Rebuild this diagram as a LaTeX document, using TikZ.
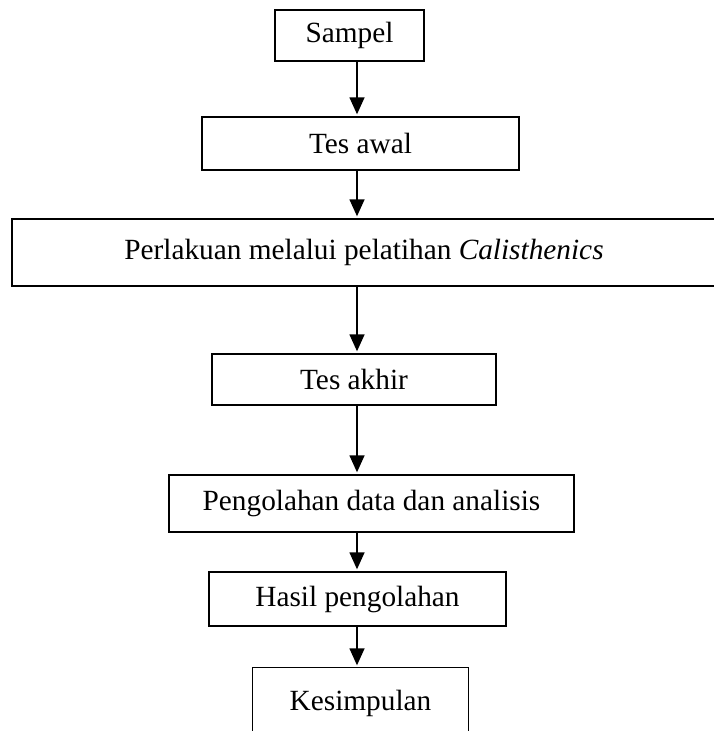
\documentclass[tikz,border=0pt]{standalone}
\usepackage{fontspec}
\setmainfont{Liberation Serif}
\usetikzlibrary{arrows.meta}
\begin{document}
\begin{tikzpicture}[x=1pt,y=1pt,
  boxnode/.style={draw=black, line width=1.4pt, inner sep=0pt, anchor=center,
    font=\fontsize{29.3}{35}\selectfont},
  arr/.style={line width=1.5pt, -{Triangle[width=15pt,length=17pt]}, shorten >=2pt}]
\useasboundingbox (0,0) rectangle (713,-731);
\coordinate (ax) at (357,0);
\node[boxnode, minimum width=149pt, minimum height=51pt] (s) at (349.5,-35.5) {Sampel};
\node[boxnode, minimum width=317pt, minimum height=53pt] (ta) at (360.5,-143.5) {Tes awal};
\node[boxnode, minimum width=704pt, minimum height=67pt] (p) at (364,-252.5) {Perlakuan melalui pelatihan \textit{Calisthenics}};
\node[boxnode, minimum width=284pt, minimum height=51pt] (tk) at (354,-379.5) {Tes akhir};
\node[boxnode, minimum width=405pt, minimum height=57pt] (pd) at (371.5,-503.5) {Pengolahan data dan analisis};
\node[boxnode, minimum width=297pt, minimum height=54pt] (h) at (357.5,-599) {Hasil pengolahan};
\node[boxnode, draw=none, minimum width=215pt, minimum height=70pt] (k) at (360.5,-703) {Kesimpulan};
\draw[line width=1.4pt] (k.south west) -- (k.north west) -- (k.north east) -- (k.south east);
\draw[arr] (s.south -| ax) -- (ta.north -| ax);
\draw[arr] (ta.south -| ax) -- (p.north -| ax);
\draw[arr] (p.south -| ax) -- (tk.north -| ax);
\draw[arr] (tk.south -| ax) -- (pd.north -| ax);
\draw[arr] (pd.south -| ax) -- (h.north -| ax);
\draw[arr] (h.south -| ax) -- (k.north -| ax);
\end{tikzpicture}
\end{document}
